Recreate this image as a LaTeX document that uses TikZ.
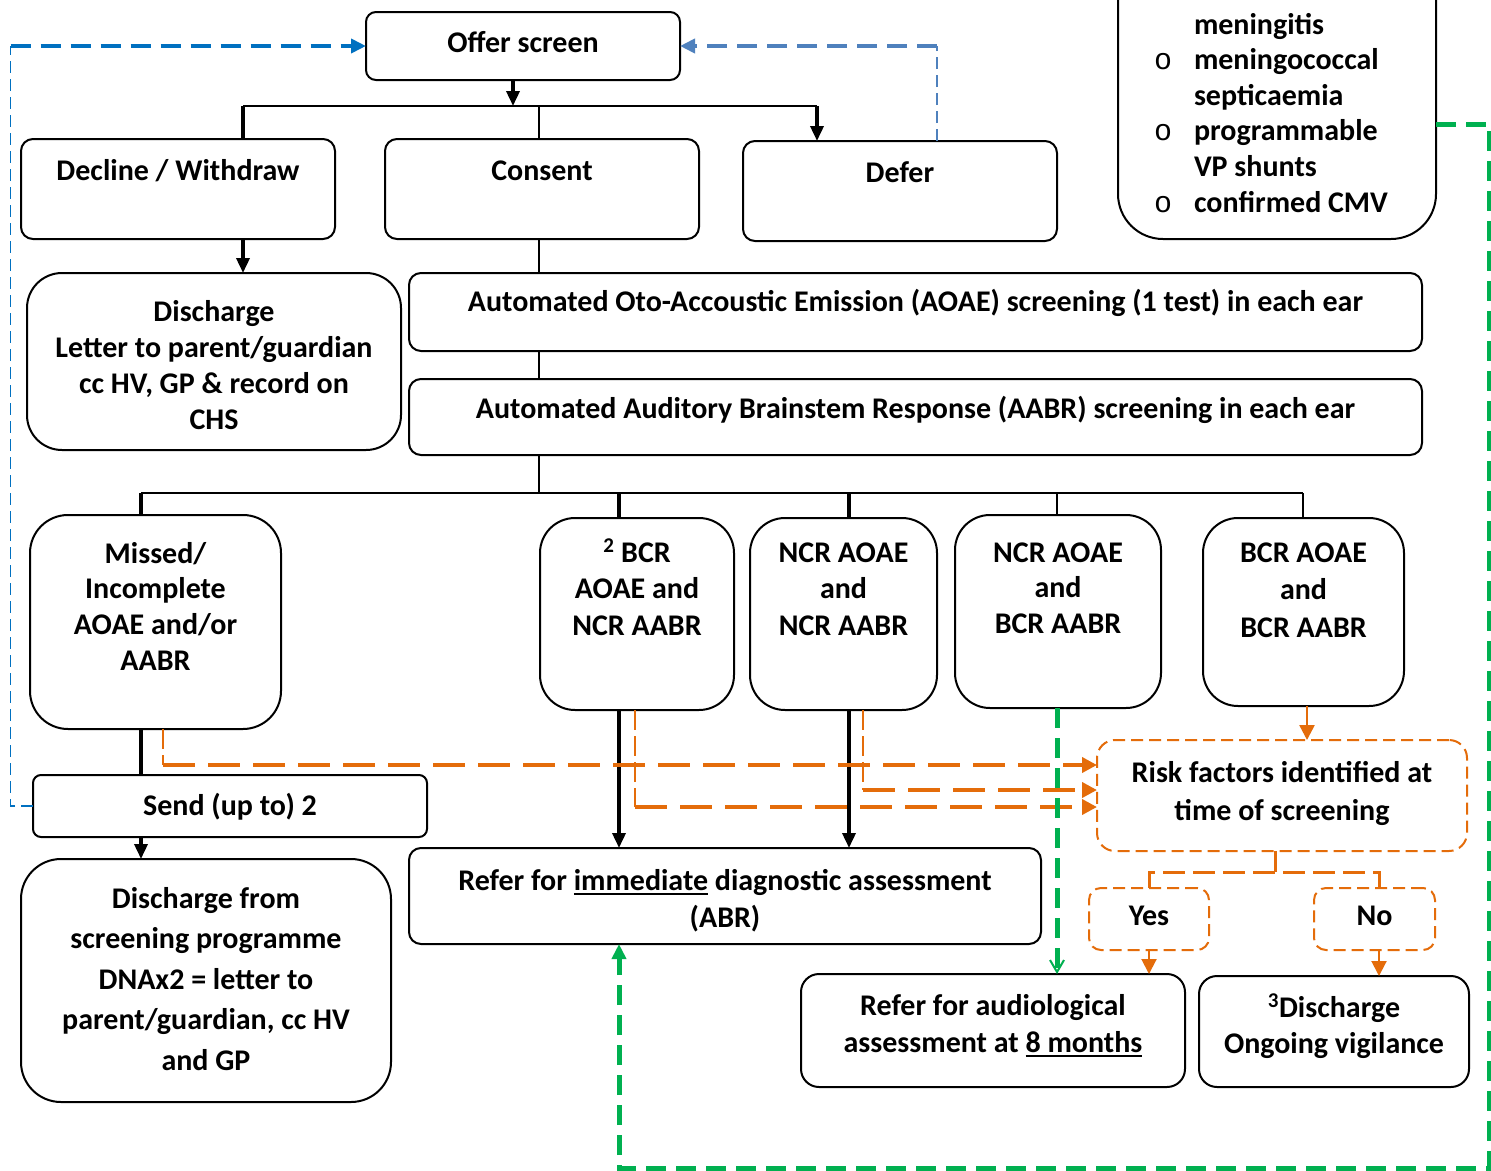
\documentclass[tikz,border=0pt]{standalone}
\usepackage{fontspec}
\setmainfont{Carlito}
\newfontfamily\courfont{Liberation Mono}
\usetikzlibrary{arrows.meta}
\definecolor{orng}{HTML}{E46C0A}
\definecolor{grn}{HTML}{00B050}
\definecolor{blu}{HTML}{0070C0}
\definecolor{blutwo}{HTML}{4F81BD}
\newcommand{\tb}[2]{\fontsize{30}{#1}\selectfont\begin{tabular}[t]{@{}c@{}}#2\end{tabular}}
\newcommand{\ulb}[1]{\leavevmode\setbox0=\hbox{#1}\rlap{\rule[-5pt]{\wd0}{2.4pt}}\box0\relax}
\newcommand{\bul}{\hspace*{45pt}\makebox[0pt]{\courfont\mdseries o}\hspace*{31pt}}
\newcommand{\nobul}{\hspace*{76pt}}
\tikzset{
  bx/.style={draw=black, line width=2pt, inner sep=0pt, outer sep=0pt, font=\bfseries, fill=white, anchor=north},
  obx/.style={bx, draw=orng, dash pattern=on 12pt off 6pt},
  geo/.style n args={3}{minimum width=#1pt, text height=#2pt, text depth=#3pt},
  blk/.style={draw=black, line width=3.5pt},
  thn/.style={draw=black, line width=1.6pt},
  bar/.style={draw=black, line width=2.2pt},
  btip/.style={-{Triangle[length=15pt,width=13pt]}},
  othick/.style={draw=orng, line width=4pt, dash pattern=on 32pt off 13pt},
  othin/.style={draw=orng, line width=2pt, dash pattern=on 20pt off 6pt},
  obr/.style={draw=orng, line width=3pt, dash pattern=on 22pt off 8pt},
  otip/.style={-{Triangle[length=15pt,width=15pt]}},
  gd/.style={draw=grn, line width=5pt, dash pattern=on 20pt off 10pt},
  bthick/.style={draw=blu, line width=4pt, dash pattern=on 20pt off 10pt},
  bthin/.style={draw=blu, line width=1.6pt, dash pattern=on 12pt off 6pt},
  bthicktwo/.style={draw=blutwo, line width=4pt, dash pattern=on 20pt off 10pt},
  bthintwo/.style={draw=blutwo, line width=1.6pt, dash pattern=on 12pt off 6pt},
}
\begin{document}
\begin{tikzpicture}[x=1pt,y=-1pt]
\clip (0,0) rectangle (1491,1170);
\fill[white] (0,0) rectangle (1491,1170);

% boxes
\node[bx, rounded corners=10pt, geo={314}{40}{28}] (offer) at (523,12) {\tb{36}{Offer screen}};
\node[bx, rounded corners=12pt, geo={314}{41}{59}] (decl) at (178,139) {\tb{36}{Decline / Withdraw}};
\node[bx, rounded corners=12pt, geo={314}{41}{59}] (cons) at (542,139) {\tb{36}{Consent}};
\node[bx, rounded corners=12pt, geo={314}{41}{59}] (defer) at (900,141) {\tb{36}{Defer}};
\node[bx, rounded corners=45pt, geo={318}{114}{205}] (list) at (1277,-80)
  {\makebox[318pt][l]{\fontsize{30}{35.6}\selectfont\begin{tabular}[t]{@{}l@{}}\nobul meningitis\\\bul meningococcal\\\nobul septicaemia\\\bul programmable\\\nobul VP shunts\\\bul confirmed CMV\end{tabular}}};
\node[bx, rounded corners=35pt, geo={374}{48}{129}] (disa) at (214,273) {\tb{36}{Discharge\\Letter to parent/guardian\\cc HV, GP \& record on\\CHS}};
\node[bx, rounded corners=12pt, geo={1013}{38}{40}] (aoae) at (915.5,273) {\tb{36}{Automated Oto-Accoustic Emission (AOAE) screening (1 test) in each ear}};
\node[bx, rounded corners=12pt, geo={1013}{39}{37}] (aabr) at (915.5,379) {\tb{36}{Automated Auditory Brainstem Response (AABR) screening in each ear}};
\node[bx, rounded corners=38pt, geo={251}{48}{166}] (missed) at (155.5,515) {\tb{35.7}{Missed/\\Incomplete\\AOAE and/or\\AABR}};
\node[bx, rounded corners=35pt, geo={194}{44}{148}] (bcr) at (637,518) {\tb{36.5}{\textsuperscript{2} BCR\\AOAE and\\NCR AABR}};
\node[bx, rounded corners=35pt, geo={187}{44}{148}] (ncr) at (843.5,518) {\tb{36.5}{NCR AOAE\\and\\NCR AABR}};
\node[bx, rounded corners=35pt, geo={206}{47}{146}] (nb) at (1058,515) {\tb{35.5}{NCR AOAE\\and\\BCR AABR}};
\node[bx, rounded corners=35pt, geo={201}{44}{144}] (bb) at (1303.5,518) {\tb{37.5}{BCR AOAE\\and\\BCR AABR}};
\node[bx, rounded corners=8pt, geo={394}{40}{22}] (send) at (230,775) {\tb{36}{Send (up to) 2}};
\node[bx, rounded corners=40pt, geo={370}{49}{194}] (disf) at (206,859) {\tb{40.5}{Discharge from\\screening programme\\DNAx2 = letter to\\parent/guardian, cc HV\\and GP}};
\node[bx, rounded corners=12pt, geo={632}{42}{54}] (refi) at (725,848) {\tb{37}{Refer for \ulb{immediate} diagnostic assessment\\(ABR)}};
\node[obx, rounded corners=18pt, geo={370}{42}{69}] (risk) at (1282,740) {\tb{38}{Risk factors identified at\\time of screening}};
\node[obx, rounded corners=12pt, geo={120}{37}{25}] (yes) at (1149,888) {\tb{36}{Yes}};
\node[obx, rounded corners=12pt, geo={121}{37}{25}] (no) at (1374.5,888) {\tb{36}{No}};
\node[bx, rounded corners=18pt, geo={384}{41}{72}] (refe) at (993,974) {\tb{37}{Refer for audiological\\assessment at \ulb{8 months}}};
\node[bx, rounded corners=18pt, geo={270}{41}{70}] (dis3) at (1334,976) {\tb{36}{\textsuperscript{3}Discharge\\Ongoing vigilance}};

% junction coordinates
\coordinate (j1) at (513,106);
\coordinate (jd) at (243,106);
\coordinate (jc) at (539,106);
\coordinate (jf) at (817,106);
\coordinate (k0) at (539,493);
\coordinate (km) at (141,493);
\coordinate (kb) at (619,493);
\coordinate (kn) at (849,493);
\coordinate (knb) at (1057,493);
\coordinate (kbb) at (1303,493);
\coordinate (o1) at (163,765);
\coordinate (o2) at (635,807);
\coordinate (o3) at (863,790);
\coordinate (xo) at (1307,720);
\coordinate (r0) at (1275,872);
\coordinate (ry) at (1149,872);
\coordinate (rn) at (1379,872);
\coordinate (g1) at (1489,124);
\coordinate (g2) at (1489,1168);
\coordinate (g3) at (619,1168);
\coordinate (b2) at (10.5,46);
\coordinate (b3) at (937,46);

% black connectors
\draw[blk, btip] (offer.south -| j1) -- (j1);
\draw[bar] (jd) -- (jf);
\draw[blk] (jd) -- (decl.north -| jd);
\draw[thn] (jc) -- (cons.north -| jc);
\draw[blk, btip] (jf) -- (defer.north -| jf);
\draw[blk, btip] (decl.south -| jd) -- (disa.north -| jd);
\draw[thn] (cons.south -| jc) -- (aoae.north -| jc);
\draw[thn] (aoae.south -| jc) -- (aabr.north -| jc);
\draw[thn] (aabr.south -| k0) -- (k0);
\draw[bar] (km) -- (kbb);
\draw[blk] (km) -- (missed.north -| km);
\draw[blk] (kb) -- (bcr.north -| kb);
\draw[blk] (kn) -- (ncr.north -| kn);
\draw[thn] (knb) -- (nb.north -| knb);
\draw[thn] (kbb) -- (bb.north -| kbb);
\draw[blk] (missed.south -| km) -- (send.north -| km);
\draw[blk, btip] (send.south -| km) -- (disf.north -| km);
\draw[blk, btip] (bcr.south -| kb) -- (refi.north -| kb);
\draw[blk, btip] (ncr.south -| kn) -- (refi.north -| kn);

% orange connectors
\draw[othin] (missed.south -| o1) -- (o1);
\draw[othick, otip] (o1) -- (risk.west |- o1);
\draw[othin] (bcr.south -| o2) -- (o2);
\draw[othick, otip] (o2) -- (risk.west |- o2);
\draw[othin] (ncr.south -| o3) -- (o3);
\draw[othick, otip] (o3) -- (risk.west |- o3);
\draw[draw=orng, line width=2.5pt, otip] (bb.south -| xo) -- (risk.north -| xo);
\draw[obr] (risk.south -| r0) -- (r0);
\draw[obr] (yes.north -| ry) -- (ry) -- (rn) -- (no.north -| rn);
\draw[draw=orng, line width=2pt, otip] (yes.south -| ry) -- (refe.north -| ry);
\draw[draw=orng, line width=2pt, otip] (no.south -| rn) -- (dis3.north -| rn);

% green connectors
\draw[gd, -{Straight Barb[length=12pt,width=14pt,line width=2pt]}] (nb.south -| knb) -- (refe.north -| knb);
\draw[gd, -{Triangle[length=15pt,width=14pt]}] (list.east |- g1) -- (g1) -- (g2) -- (g3) -- (refi.south -| g3);

% blue connectors
\draw[bthin] (send.west) -- (send.west -| b2) -- (b2);
\draw[bthick, -{Triangle[length=15pt,width=14pt]}] (b2) -- (offer.west);
\draw[bthintwo] (defer.north -| b3) -- (b3);
\draw[bthicktwo, -{Triangle[length=15pt,width=14pt]}] (b3) -- (offer.east);
\end{tikzpicture}
\end{document}
